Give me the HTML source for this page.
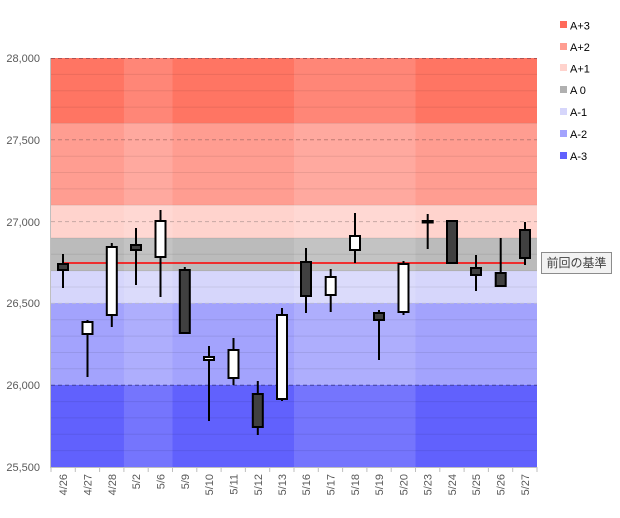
<!DOCTYPE html>
<html><head><meta charset="utf-8"><style>
html,body{margin:0;padding:0;background:#fff;}
svg text{font-family:"Liberation Sans","Noto Sans CJK JP",sans-serif;}
</style></head><body>
<svg width="620" height="513" viewBox="0 0 620 513" xmlns="http://www.w3.org/2000/svg">
<!-- bands: dark weeks -->
<g id="bands">
<rect x="51" y="58" width="486" height="65" fill="#ff7563"/>
<rect x="51" y="123" width="486" height="82" fill="#ff9d91"/>
<rect x="51" y="205" width="486" height="33" fill="#ffd3cd"/>
<rect x="51" y="238" width="486" height="33" fill="#bbbbbb"/>
<rect x="51" y="271" width="486" height="32" fill="#d6d6fb"/>
<rect x="51" y="303" width="486" height="82" fill="#a3a3fd"/>
<rect x="51" y="385" width="486" height="82" fill="#6161fd"/>
</g>
<!-- lighter week columns -->
<g fill="#ffffff" fill-opacity="0.13">
<rect x="123.9" y="58" width="48.6" height="409"/>
<rect x="294" y="58" width="121.5" height="409"/>
</g>
<!-- minor grid -->
<g stroke="#000" stroke-opacity="0.08" stroke-width="1">
<line x1="51" x2="537" y1="74.4" y2="74.4"/><line x1="51" x2="537" y1="90.7" y2="90.7"/><line x1="51" x2="537" y1="107.1" y2="107.1"/><line x1="51" x2="537" y1="123.4" y2="123.4"/>
<line x1="51" x2="537" y1="156.2" y2="156.2"/><line x1="51" x2="537" y1="172.5" y2="172.5"/><line x1="51" x2="537" y1="188.9" y2="188.9"/><line x1="51" x2="537" y1="205.2" y2="205.2"/>
<line x1="51" x2="537" y1="238" y2="238"/><line x1="51" x2="537" y1="254.3" y2="254.3"/><line x1="51" x2="537" y1="270.7" y2="270.7"/><line x1="51" x2="537" y1="287" y2="287"/>
<line x1="51" x2="537" y1="319.8" y2="319.8"/><line x1="51" x2="537" y1="336.1" y2="336.1"/><line x1="51" x2="537" y1="352.5" y2="352.5"/><line x1="51" x2="537" y1="368.8" y2="368.8"/>
<line x1="51" x2="537" y1="401.6" y2="401.6"/><line x1="51" x2="537" y1="417.9" y2="417.9"/><line x1="51" x2="537" y1="434.3" y2="434.3"/><line x1="51" x2="537" y1="450.6" y2="450.6"/>
</g>
<g stroke-dasharray="4,3" stroke-width="1">
<line x1="51" x2="537" y1="58.5" y2="58.5" stroke="#b05050"/>
<line x1="51" x2="537" y1="139.8" y2="139.8" stroke="#c07a72"/>
<line x1="51" x2="537" y1="221.6" y2="221.6" stroke="#c8a8a4"/>
<line x1="51" x2="537" y1="303.4" y2="303.4" stroke="#b8b8d8"/>
<line x1="51" x2="537" y1="385.2" y2="385.2" stroke="#4040a0"/>
</g>
<!-- axes -->
<line x1="50.5" y1="58" x2="50.5" y2="467" stroke="#bfbfbf"/>
<line x1="50" y1="467.5" x2="537" y2="467.5" stroke="#bfbfbf"/>
<g stroke="#bfbfbf">
<line x1="51" x2="51" y1="467" y2="472"/><line x1="75.3" x2="75.3" y1="467" y2="472"/><line x1="99.6" x2="99.6" y1="467" y2="472"/><line x1="123.9" x2="123.9" y1="467" y2="472"/><line x1="148.2" x2="148.2" y1="467" y2="472"/><line x1="172.5" x2="172.5" y1="467" y2="472"/><line x1="196.8" x2="196.8" y1="467" y2="472"/><line x1="221.1" x2="221.1" y1="467" y2="472"/><line x1="245.4" x2="245.4" y1="467" y2="472"/><line x1="269.7" x2="269.7" y1="467" y2="472"/><line x1="294" x2="294" y1="467" y2="472"/><line x1="318.3" x2="318.3" y1="467" y2="472"/><line x1="342.6" x2="342.6" y1="467" y2="472"/><line x1="366.9" x2="366.9" y1="467" y2="472"/><line x1="391.2" x2="391.2" y1="467" y2="472"/><line x1="415.5" x2="415.5" y1="467" y2="472"/><line x1="439.8" x2="439.8" y1="467" y2="472"/><line x1="464.1" x2="464.1" y1="467" y2="472"/><line x1="488.4" x2="488.4" y1="467" y2="472"/><line x1="512.7" x2="512.7" y1="467" y2="472"/><line x1="537" x2="537" y1="467" y2="472"/>
</g>
<!-- y labels -->
<g font-size="11" fill="#595959" text-anchor="end">
<text x="40" y="62">28,000</text>
<text x="40" y="144">27,500</text>
<text x="40" y="226">27,000</text>
<text x="40" y="307">26,500</text>
<text x="40" y="389">26,000</text>
<text x="40" y="471">25,500</text>
</g>
<!-- x labels -->
<g font-size="11" fill="#595959" text-anchor="end">
<text transform="translate(67,474) rotate(-90)">4/26</text>
<text transform="translate(91.5,474) rotate(-90)">4/27</text>
<text transform="translate(115.8,474) rotate(-90)">4/28</text>
<text transform="translate(140,474) rotate(-90)">5/2</text>
<text transform="translate(164.5,474) rotate(-90)">5/6</text>
<text transform="translate(188.8,474) rotate(-90)">5/9</text>
<text transform="translate(213,474) rotate(-90)">5/10</text>
<text transform="translate(237.5,474) rotate(-90)">5/11</text>
<text transform="translate(261.8,474) rotate(-90)">5/12</text>
<text transform="translate(286,474) rotate(-90)">5/13</text>
<text transform="translate(310.2,474) rotate(-90)">5/16</text>
<text transform="translate(334.7,474) rotate(-90)">5/17</text>
<text transform="translate(359,474) rotate(-90)">5/18</text>
<text transform="translate(383,474) rotate(-90)">5/19</text>
<text transform="translate(407.5,474) rotate(-90)">5/20</text>
<text transform="translate(431.7,474) rotate(-90)">5/23</text>
<text transform="translate(456,474) rotate(-90)">5/24</text>
<text transform="translate(480,474) rotate(-90)">5/25</text>
<text transform="translate(504.7,474) rotate(-90)">5/26</text>
<text transform="translate(529,474) rotate(-90)">5/27</text>
</g>
<!-- red baseline -->
<line x1="63" y1="263" x2="525" y2="263" stroke="#ff0000" stroke-width="1.5"/>
<!-- candles -->
<g stroke="#000" stroke-width="2">
<line x1="63" x2="63" y1="254" y2="288"/><rect x="58" y="264" width="10" height="6" fill="#404040"/>
<line x1="87.5" x2="87.5" y1="320" y2="377"/><rect x="82.5" y="322" width="10" height="12" fill="#fff"/>
<line x1="111.8" x2="111.8" y1="243" y2="327"/><rect x="106.8" y="247" width="10" height="68" fill="#fff"/>
<line x1="136" x2="136" y1="228" y2="285"/><rect x="131" y="245" width="10" height="5" fill="#404040"/>
<line x1="160.5" x2="160.5" y1="210" y2="297"/><rect x="155.5" y="221" width="10" height="36" fill="#fff"/>
<line x1="184.8" x2="184.8" y1="267" y2="334"/><rect x="179.8" y="270" width="10" height="63" fill="#404040"/>
<line x1="209" x2="209" y1="346" y2="421"/><rect x="204" y="357" width="10" height="3" fill="#fff"/>
<line x1="233.5" x2="233.5" y1="338" y2="385"/><rect x="228.5" y="350" width="10" height="28" fill="#fff"/>
<line x1="257.8" x2="257.8" y1="381" y2="435"/><rect x="252.8" y="394" width="10" height="33" fill="#404040"/>
<line x1="282" x2="282" y1="308" y2="401"/><rect x="277" y="315" width="10" height="84" fill="#fff"/>
<line x1="306" x2="306" y1="248" y2="313"/><rect x="301" y="262" width="10" height="34" fill="#404040"/>
<line x1="330.7" x2="330.7" y1="269" y2="312"/><rect x="325.7" y="277" width="10" height="18" fill="#fff"/>
<line x1="355" x2="355" y1="213" y2="263"/><rect x="350" y="236" width="10" height="14" fill="#fff"/>
<line x1="379" x2="379" y1="310" y2="360"/><rect x="374" y="313" width="10" height="7" fill="#404040"/>
<line x1="403.5" x2="403.5" y1="261" y2="315"/><rect x="398.5" y="264" width="10" height="48" fill="#fff"/>
<line x1="427.7" x2="427.7" y1="214" y2="249"/><rect x="422.7" y="221" width="10" height="1.5" fill="#404040"/>
<line x1="452" x2="452" y1="221" y2="264"/><rect x="447" y="221" width="10" height="42" fill="#404040"/>
<line x1="476" x2="476" y1="255" y2="291"/><rect x="471" y="268" width="10" height="7" fill="#404040"/>
<line x1="500.7" x2="500.7" y1="238" y2="287"/><rect x="495.7" y="273" width="10" height="13" fill="#404040"/>
<line x1="525" x2="525" y1="222" y2="265"/><rect x="520" y="230" width="10" height="28" fill="#404040"/>
</g>
<!-- label box -->
<rect x="541.5" y="252.5" width="70" height="21" fill="#f2f2f2" stroke="#8c8c8c"/>
<text x="576.5" y="267" font-size="12" fill="#404040" text-anchor="middle">前回の基準</text>
<!-- legend -->
<g font-size="11" fill="#000">
<rect x="560" y="21" width="7" height="7" fill="#ff6a5a"/><text x="570" y="29.5">A+3</text>
<rect x="560" y="43" width="7" height="7" fill="#ff9d91"/><text x="570" y="51">A+2</text>
<rect x="560" y="64" width="7" height="7" fill="#ffd3cd"/><text x="570" y="72.5">A+1</text>
<rect x="560" y="86" width="7" height="7" fill="#b0b0b0"/><text x="570" y="94">A 0</text>
<rect x="560" y="108" width="7" height="7" fill="#d6d6fb"/><text x="570" y="116">A-1</text>
<rect x="560" y="130" width="7" height="7" fill="#a3a3fd"/><text x="570" y="138">A-2</text>
<rect x="560" y="152" width="7" height="7" fill="#6161fd"/><text x="570" y="160">A-3</text>
</g>
</svg>
</body></html>
